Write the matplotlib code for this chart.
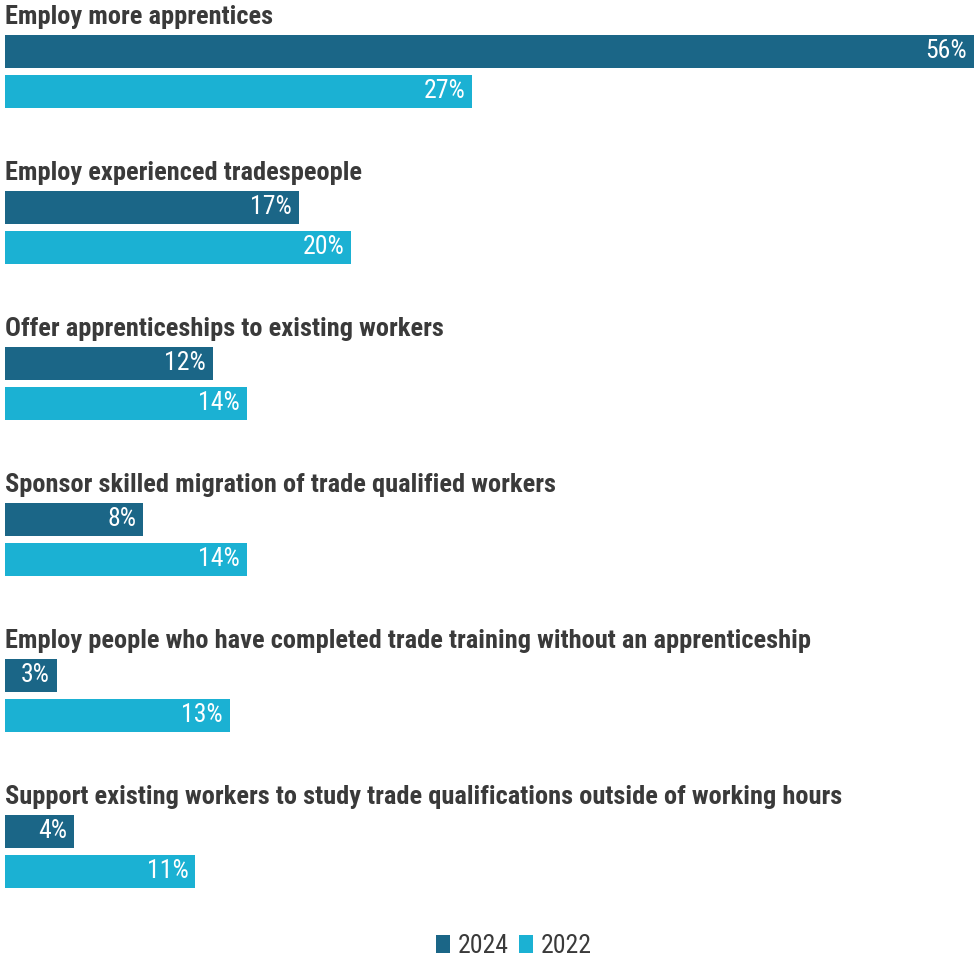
import matplotlib
matplotlib.use("Agg")
import matplotlib.pyplot as plt
from matplotlib.patches import Patch

categories = [
    "Employ more apprentices",
    "Employ experienced tradespeople",
    "Offer apprenticeships to existing workers",
    "Sponsor skilled migration of trade qualified workers",
    "Employ people who have completed trade training without an apprenticeship",
    "Support existing workers to study trade qualifications outside of working hours",
]
values_2024 = [56, 17, 12, 8, 3, 4]
values_2022 = [27, 20, 14, 14, 13, 11]
series_labels = ["2024", "2022"]

COLOR_2024 = "#1b6687"
COLOR_2022 = "#1bb1d3"
TEXT_DARK = "#3a3a3a"

FONT = ["Roboto Condensed", "Liberation Sans Narrow", "Roboto", "DejaVu Sans"]
plt.rcParams["font.family"] = FONT

W, H = 975, 958
fig = plt.figure(figsize=(W / 100, H / 100), dpi=100)
ax = fig.add_axes([0, 0, 1, 1])

# one group per unit of y; group pitch is 156 px
pitch = 156.0
px_per_pct = 17.3
ax.set_xlim(-5 / px_per_pct, (W - 5) / px_per_pct)
ax.set_ylim(H / pitch, 0)
ax.axis("off")

bar_h = 33 / pitch
off_2024 = 51.5 / pitch
off_2022 = 91.5 / pitch
off_title = 17 / pitch

for i, (cat, v24, v22) in enumerate(zip(categories, values_2024, values_2022)):
    ax.text(0, i + off_title, cat, ha="left", va="center", fontsize=19,
            fontweight="bold", color=TEXT_DARK)
    for v, off, col in ((v24, off_2024, COLOR_2024), (v22, off_2022, COLOR_2022)):
        ax.barh(i + off, v, height=bar_h, left=0, color=col,
                edgecolor="none")
        ax.annotate(f"{v}%", xy=(v, i + off), xytext=(-7, 0),
                    textcoords="offset pixels", ha="right", va="center",
                    fontsize=18.5, color="white")

handles = [Patch(facecolor=COLOR_2024, edgecolor="none"),
           Patch(facecolor=COLOR_2022, edgecolor="none")]
fig.legend(handles, series_labels, loc="center", bbox_to_anchor=(514 / W, 1 - 946 / H),
           ncol=2, frameon=False, fontsize=18.5, labelcolor=TEXT_DARK,
           handlelength=0.55, handleheight=0.75, handletextpad=0.3,
           columnspacing=0.4)

fig.savefig("out.png", dpi=100)
